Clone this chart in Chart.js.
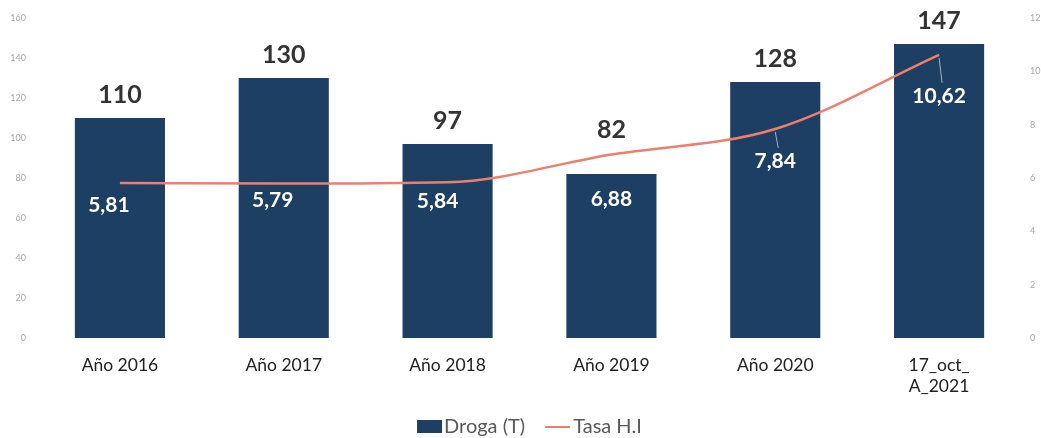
<!DOCTYPE html>
<html>
<head>
<meta charset="utf-8">
<script src="https://cdn.jsdelivr.net/npm/chart.js@4"></script>
<style>
  html, body { margin: 0; padding: 0; background: #fff; overflow: hidden; }
  #wrap { width: 1041px; height: 438px; position: relative; }
</style>
</head>
<body>
<div id="wrap"><canvas id="chart"></canvas></div>
<script>
const categories = ['Año 2016', 'Año 2017', 'Año 2018', 'Año 2019', 'Año 2020', ['17_oct_', 'A_2021']];
const drogaValues = [110, 130, 97, 82, 128, 147];
const tasaValues = [5.81, 5.79, 5.84, 6.88, 7.84, 10.62];
const leftTicks = [0, 20, 40, 60, 80, 100, 120, 140, 160];
const rightTicks = [0, 2, 4, 6, 8, 10, 12];
const legendNames = ['Droga (T)', 'Tasa H.I'];

const BAR_COLOR = '#1d3f63';
const LINE_COLOR = '#ef7f6d';

// label placement relative to bar tops / line points
const drogaLabelLift = [23, 23, 23, 44, 23, 23];
const tasaLabelOffset = [[-11, 22], [-11, 17], [-10, 19], [0, 45], [0, 32], [0, 41]];

const fmt = v => v.toFixed(2).replace('.', ',');

const labelsPlugin = {
  id: 'valueLabels',
  afterDatasetsDraw(chart) {
    const { ctx } = chart;
    const barMeta = chart.getDatasetMeta(0);
    const lineMeta = chart.getDatasetMeta(1);
    ctx.save();
    ctx.textAlign = 'center';
    ctx.textBaseline = 'middle';

    // totals above bars
    ctx.font = 'bold 25px Lato';
    ctx.fillStyle = '#333';
    barMeta.data.forEach((bar, i) => {
      ctx.fillText(String(drogaValues[i]), bar.x, bar.y - drogaLabelLift[i]);
    });

    // leader lines for the last two points
    ctx.strokeStyle = '#9fb3c6';
    ctx.lineWidth = 1;
    [4, 5].forEach(i => {
      const p = lineMeta.data[i];
      const [dx, dy] = tasaLabelOffset[i];
      ctx.beginPath();
      ctx.moveTo(p.x, p.y + 3);
      ctx.lineTo(p.x + dx + 3, p.y + dy - 13);
      ctx.stroke();
    });

    // rate labels inside bars
    ctx.font = 'bold 21px Lato';
    ctx.fillStyle = '#ffffff';
    lineMeta.data.forEach((pt, i) => {
      const [dx, dy] = tasaLabelOffset[i];
      ctx.fillText(fmt(tasaValues[i]), pt.x + dx, pt.y + dy);
    });
    ctx.restore();
  }
};

const legendPlugin = {
  id: 'customLegend',
  afterDraw(chart) {
    const { ctx, chartArea } = chart;
    ctx.save();
    ctx.font = '20px Lato';
    ctx.textBaseline = 'middle';
    const y = 427;
    const w1 = 25 + 2 + ctx.measureText(legendNames[0]).width;
    const w2 = 25 + 3 + ctx.measureText(legendNames[1]).width;
    const gap = 20;
    let x = (chartArea.left + chartArea.right) / 2 - (w1 + gap + w2) / 2;

    ctx.fillStyle = BAR_COLOR;
    ctx.fillRect(x, y - 7, 25, 13);
    ctx.fillStyle = '#595959';
    ctx.fillText(legendNames[0], x + 27, y);
    x += w1 + gap;

    ctx.strokeStyle = LINE_COLOR;
    ctx.lineWidth = 2;
    ctx.beginPath();
    ctx.moveTo(x, y);
    ctx.lineTo(x + 25, y);
    ctx.stroke();
    ctx.fillStyle = '#595959';
    ctx.fillText(legendNames[1], x + 28, y);
    ctx.restore();
  }
};

new Chart(document.getElementById('chart'), {
  data: {
    labels: categories,
    datasets: [
      {
        type: 'bar',
        label: legendNames[0],
        data: drogaValues,
        backgroundColor: BAR_COLOR,
        yAxisID: 'y',
        order: 1,
        categoryPercentage: 1,
        barPercentage: 0.55,
      },
      {
        type: 'line',
        label: legendNames[1],
        data: tasaValues,
        borderColor: LINE_COLOR,
        borderWidth: 2.5,
        pointRadius: 0,
        cubicInterpolationMode: 'monotone',
        yAxisID: 'y1',
        order: 0,
      },
    ],
  },
  options: {
    responsive: true,
    maintainAspectRatio: false,
    animation: false,
    layout: { padding: { top: 18, bottom: 26, left: 0, right: 0 } },
    plugins: {
      legend: { display: false },
      tooltip: { enabled: false },
    },
    scales: {
      x: {
        grid: { display: false, drawTicks: false },
        border: { display: false },
        ticks: { color: '#222', font: { family: 'Lato', size: 17.5 }, padding: 17 },
        afterFit(scale) { scale.height = 74; },
      },
      y: {
        position: 'left',
        min: 0,
        max: 160,
        grid: { display: false, drawTicks: false },
        border: { display: false },
        afterBuildTicks(scale) { scale.ticks = leftTicks.map(v => ({ value: v })); },
        ticks: { color: '#a8a8a8', font: { family: 'Lato', size: 9 }, padding: 12 },
        afterFit(scale) { scale.width = 38; },
      },
      y1: {
        position: 'right',
        min: 0,
        max: 12,
        grid: { display: false, drawTicks: false },
        border: { display: false },
        afterBuildTicks(scale) { scale.ticks = rightTicks.map(v => ({ value: v })); },
        ticks: { color: '#a8a8a8', font: { family: 'Lato', size: 9 }, padding: 9 },
        afterFit(scale) { scale.width = 20; },
      },
    },
  },
  plugins: [labelsPlugin, legendPlugin],
});
</script>
</body>
</html>
